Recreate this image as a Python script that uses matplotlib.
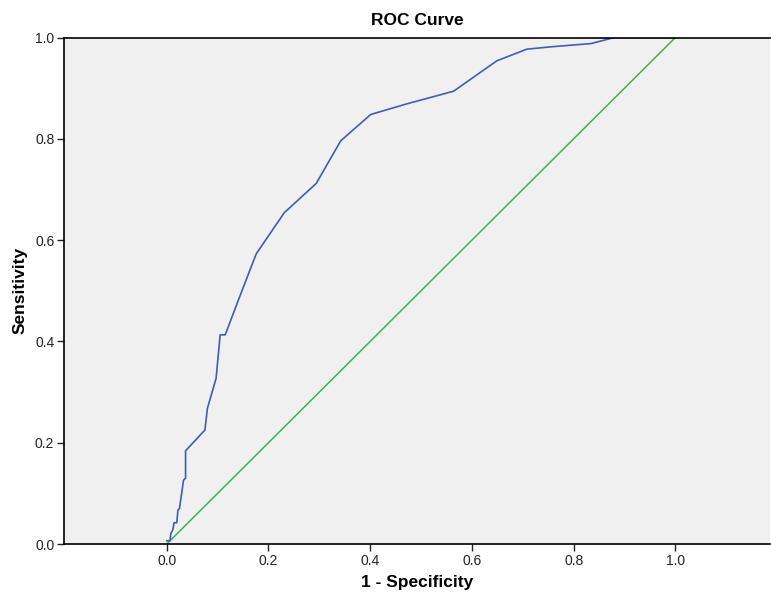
import matplotlib.pyplot as plt

plt.rcParams['font.family'] = ['Liberation Sans', 'DejaVu Sans']

# ROC curve points
fpr = [0.0, 0.0065, 0.008, 0.012, 0.0144, 0.0197, 0.022, 0.025, 0.033, 0.037, 0.037,
       0.075, 0.080, 0.097, 0.105, 0.115, 0.141, 0.164, 0.176, 0.231, 0.294, 0.342,
       0.401, 0.472, 0.564, 0.649, 0.708, 0.76, 0.834, 0.880, 1.0]
tpr = [0.0065, 0.0065, 0.021, 0.028, 0.042, 0.042, 0.067, 0.070, 0.126, 0.130, 0.184,
       0.225, 0.268, 0.327, 0.413, 0.413, 0.482, 0.542, 0.573, 0.654, 0.712, 0.796,
       0.848, 0.869, 0.894, 0.954, 0.977, 0.982, 0.988, 1.0, 1.0]
ref_x = [0.0, 1.0]
ref_y = [0.0, 1.0]
ticks = [0.0, 0.2, 0.4, 0.6, 0.8, 1.0]

fig = plt.figure(figsize=(7.71, 5.94), dpi=100)
ax = fig.add_axes([64 / 771, 50 / 594, 706 / 771, 506.5 / 594])
ax.set_facecolor('#f0f0f0')

ax.plot(ref_x, ref_y, color='#3cb44b', lw=1.1)
ax.plot(fpr, tpr, color='#3f5cb6', lw=1.2)

ax.set_xlim(-0.202, 1.186)
ax.set_ylim(0, 1)
ax.set_xticks(ticks)
ax.set_yticks(ticks)
ax.set_xticklabels([f'{t:.1f}' for t in ticks])
ax.set_yticklabels([f'{t:.1f}' for t in ticks])
ax.tick_params(direction='out', length=5, width=1, labelsize=10, colors='#222222', pad=2)

ax.spines['right'].set_visible(False)
for s in ['left', 'top', 'bottom']:
    ax.spines[s].set_linewidth(1.2)

ax.set_title('ROC Curve', fontsize=12.5, fontweight='bold', pad=9)
ax.set_xlabel('1 - Specificity', fontsize=12.5, fontweight='bold', labelpad=5)
ax.set_ylabel('Sensitivity', fontsize=12.5, fontweight='bold', labelpad=5)

fig.savefig('out.png', dpi=100)
